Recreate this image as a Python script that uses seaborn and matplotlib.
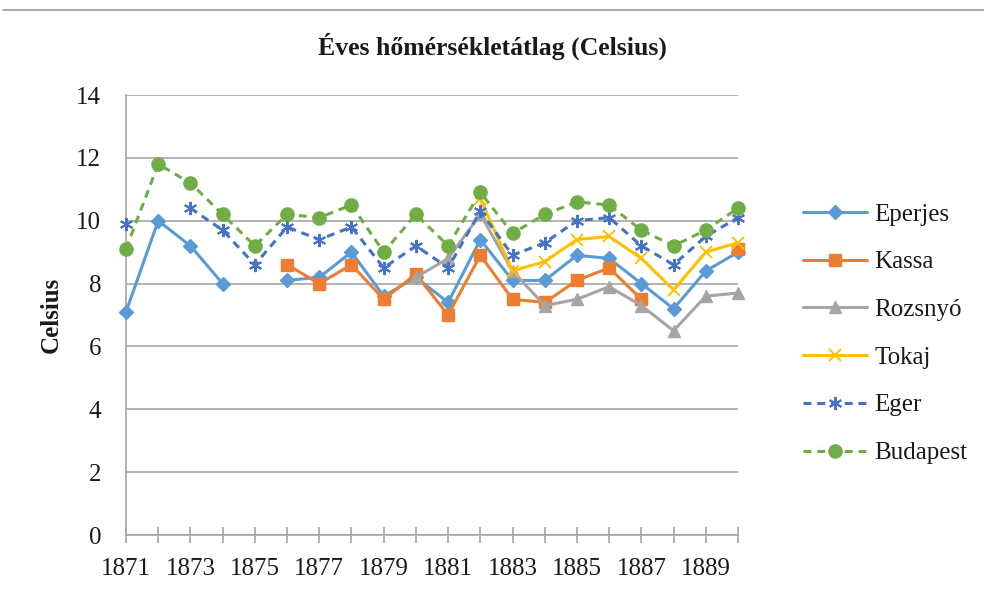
import numpy as np
import pandas as pd
import matplotlib
matplotlib.use("Agg")
import matplotlib.pyplot as plt
import seaborn as sns
from matplotlib.lines import Line2D

nan = np.nan
years = list(range(1871, 1891))
eperjes = [7.1, 10.0, 9.2, 8.0, nan, 8.1, 8.2, 9.0, 7.6, 8.2, 7.4, 9.4, 8.1, 8.1, 8.9, 8.8, 8.0, 7.2, 8.4, 9.0]
kassa = [nan, nan, nan, nan, nan, 8.6, 8.0, 8.6, 7.5, 8.3, 7.0, 8.9, 7.5, 7.4, 8.1, 8.5, 7.5, nan, nan, 9.1]
rozsnyo = [nan, nan, nan, nan, nan, nan, nan, nan, nan, 8.2, 8.8, 10.2, 8.4, 7.3, 7.5, 7.9, 7.3, 6.5, 7.6, 7.7]
tokaj = [nan, nan, nan, nan, nan, nan, nan, nan, nan, nan, nan, 10.7, 8.4, 8.7, 9.4, 9.5, 8.8, 7.8, 9.0, 9.3]
eger = [9.9, nan, 10.4, 9.7, 8.6, 9.8, 9.4, 9.8, 8.5, 9.2, 8.5, 10.3, 8.9, 9.3, 10.0, 10.1, 9.2, 8.6, 9.5, 10.1]
budapest = [9.1, 11.8, 11.2, 10.2, 9.2, 10.2, 10.1, 10.5, 9.0, 10.2, 9.2, 10.9, 9.6, 10.2, 10.6, 10.5, 9.7, 9.2, 9.7, 10.4]

series_names = ["Eperjes", "Kassa", "Rozsnyó", "Tokaj", "Eger", "Budapest"]
series_values = [eperjes, kassa, rozsnyo, tokaj, eger, budapest]
colors = ["#5B9BD5", "#ED7D31", "#A5A5A5", "#FFC000", "#4472C4", "#70AD47"]
markers = ["D", "s", "^", "x", (6, 2, 0), "o"]
marker_sizes = [7.5, 9, 9, 9, 9.5, 9.5]
marker_ew = [1, 1, 1, 1.4, 1.4, 1]
dash = (0, (2.6, 1.9))
linestyles = ["-", "-", "-", "-", dash, dash]
y_ticks = [0, 2, 4, 6, 8, 10, 12, 14]
x_tick_labels = [str(y) if (y - 1871) % 2 == 0 else "" for y in years]
title = "Éves hőmérsékletátlag (Celsius)"
y_label = "Celsius"

sns.set_theme(style="white")
plt.rcParams["font.family"] = ["Liberation Serif", "DejaVu Serif"]

W, H = 984, 593
fig = plt.figure(figsize=(W / 100, H / 100), dpi=100)
ax = fig.add_axes([126 / W, 58 / H, 612 / W, 440 / H])

grid_col = "#A6A6A6"
txt_col = "#1a1a1a"
lw = 2.2
handles = []
for i, (name, vals) in enumerate(zip(series_names, series_values)):
    df = pd.DataFrame({"year": years, "value": vals})
    df["seg"] = df["value"].isna().cumsum()
    df = df.dropna()
    sns.lineplot(data=df, x="year", y="value", units="seg", estimator=None,
                 color=colors[i], marker=markers[i], markersize=marker_sizes[i],
                 markeredgecolor=colors[i], markeredgewidth=marker_ew[i],
                 linewidth=lw, linestyle=linestyles[i], ax=ax, legend=False,
                 zorder=3 + i, clip_on=False)
    handles.append(Line2D([], [], color=colors[i], marker=markers[i],
                          markersize=marker_sizes[i], markeredgecolor=colors[i],
                          markeredgewidth=marker_ew[i], linewidth=lw,
                          linestyle=linestyles[i]))

ax.set_xlim(years[0], years[-1])
ax.set_ylim(y_ticks[0], y_ticks[-1])
ax.set_yticks(y_ticks)
ax.set_xticks(years)
ax.set_xticklabels(x_tick_labels)
ax.set_xlabel("")
ax.set_ylabel(y_label, fontsize=18, fontweight="bold", color=txt_col)
ax.yaxis.set_label_coords(-63 / 612, 0.5)

ax.yaxis.grid(True, color=grid_col, linewidth=1.2)
ax.xaxis.grid(False)
ax.set_axisbelow(True)
for s in ["top", "right"]:
    ax.spines[s].set_visible(False)
for s in ["left", "bottom"]:
    ax.spines[s].set_color(grid_col)
    ax.spines[s].set_linewidth(1.2)
ax.tick_params(axis="x", direction="inout", length=11, width=1.2, color=grid_col,
               labelsize=18, pad=11, labelcolor=txt_col, bottom=True)
ax.tick_params(axis="y", length=0, pad=18, labelsize=18, labelcolor=txt_col)

fig.text(0.5, 1 - 46 / H, title, ha="center", va="center", fontsize=18.5,
         fontweight="bold", color=txt_col)
fig.add_artist(Line2D([3 / W, 1], [1 - 10 / H, 1 - 10 / H], transform=fig.transFigure,
                      color="#9a9a9a", linewidth=1.2))

fig.legend(handles, series_names, loc="upper left",
           bbox_to_anchor=(803 / W, 1 - 203 / H), frameon=False, fontsize=18,
           handlelength=2.55, handletextpad=0.3, labelspacing=1.01,
           borderpad=0, borderaxespad=0, labelcolor=txt_col)

fig.savefig("out.png", dpi=100, facecolor="white")
